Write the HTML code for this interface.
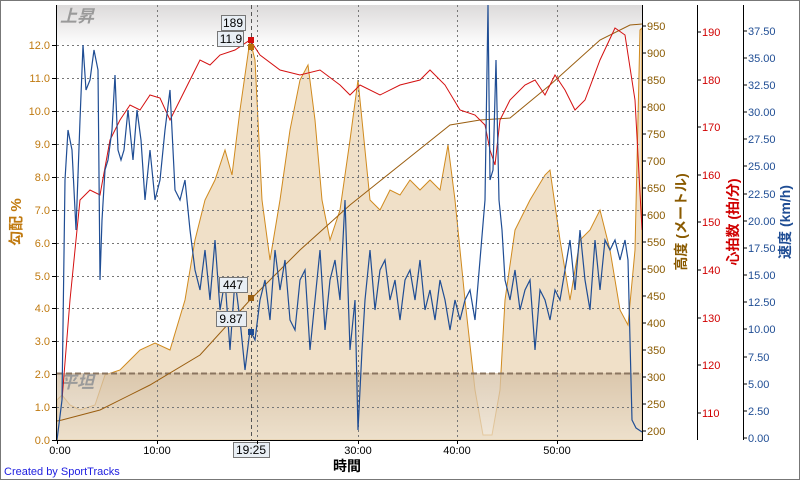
<!DOCTYPE html>
<html><head><meta charset="utf-8"><style>
body{margin:0;background:#fff}
svg{display:block;font-family:"Liberation Sans","Noto Sans CJK JP",sans-serif}
</style></head><body>
<svg width="800" height="480" viewBox="0 0 800 480">
<defs>
<linearGradient id="top" x1="0" y1="0" x2="0" y2="1"><stop offset="0" stop-color="#dcdada"/><stop offset="1" stop-color="#ffffff"/></linearGradient>
<linearGradient id="flat" x1="0" y1="0" x2="0" y2="1"><stop offset="0" stop-color="#d4bfa3"/><stop offset="1" stop-color="#ece0cd"/></linearGradient>
<clipPath id="pc"><rect x="57" y="5" width="585" height="435"/></clipPath>
</defs>
<rect x="0.5" y="0.5" width="799" height="479" fill="#fff" stroke="#777"/>
<rect x="57" y="5" width="585" height="435" fill="#fff"/>
<rect x="57" y="5" width="585" height="42" fill="url(#top)"/>
<g clip-path="url(#pc)">
<polygon fill="#f0e0c8" stroke="#d08a1e" stroke-width="1" points="57,440 57,400 62,395 70,405 80,410 95,405 105,375 120,370 140,350 155,343 170,350 185,300 195,240 205,200 215,180 225,150 232,175 240,110 250,40 255,60 262,200 270,260 280,200 290,130 300,80 308,65 315,120 322,200 330,240 340,210 350,140 358,80 362,120 370,200 380,210 390,190 400,195 410,180 420,190 430,180 440,190 448,145 455,200 465,300 475,390 483,435 492,435 500,390 505,300 515,230 530,200 545,175 550,170 560,240 570,300 580,240 590,230 600,210 610,250 620,310 628,325 635,250 640,30 642,28 642,440"/>
<rect x="57" y="373" width="585" height="67" fill="url(#flat)" opacity="0.75"/>
<g stroke="#777" stroke-width="1" stroke-dasharray="2,3" fill="none">
<path d="M57,45.5H642M57,78.5H642M57,111.5H642M57,144.5H642M57,177.5H642M57,210.5H642M57,243.5H642M57,276.5H642M57,308.5H642M57,341.5H642M57,407.5H642"/>
<path d="M157.5,5V440M257.5,5V440M358.5,5V440M457.5,5V440M557.5,5V440"/>
</g>
<path d="M57,373.5H642" stroke="#8a7560" stroke-width="2" stroke-dasharray="6,3"/>
<text x="60" y="22" font-size="17" font-style="italic" font-weight="bold" fill="#9a9a9a">上昇</text>
<text x="60" y="388" font-size="17" font-style="italic" font-weight="bold" fill="#9a9a9a">平坦</text>
<polyline fill="none" stroke="#9a5e10" stroke-width="1" points="57,421 62,420 100,410 150,385 200,355 250,300 300,250 350,205 400,165 450,125 480,120 510,118 550,85 600,40 630,25 642,24"/>
<polyline fill="none" stroke="#d41010" stroke-width="1" points="62,400 70,300 80,200 90,190 100,195 110,140 120,120 130,105 140,110 150,95 160,98 170,120 180,100 190,80 200,60 210,65 220,55 235,50 250,40 260,55 280,70 300,75 320,70 340,85 350,95 360,85 380,95 400,85 420,80 430,70 445,85 460,110 475,115 485,125 490,150 495,165 500,120 510,100 525,85 535,80 545,95 555,75 565,90 575,110 585,100 600,60 615,28 625,35 635,100 642,230"/>
<polyline fill="none" stroke="#1f4d94" stroke-width="1.2" points="57,440 62,400 65,180 68,130 72,150 76,230 80,120 83,45 86,90 90,80 94,50 98,70 100,280 102,220 105,170 108,160 112,130 115,75 118,150 121,160 124,150 128,110 133,160 137,110 141,140 145,200 150,150 155,200 160,180 165,130 170,90 175,190 180,200 185,180 190,230 195,270 200,290 205,250 210,300 215,240 220,310 225,280 230,350 235,280 240,320 245,370 250,330 255,340 260,300 265,280 270,320 275,250 280,290 285,260 290,320 295,330 300,280 305,270 310,350 315,300 320,250 325,330 330,280 335,260 340,300 345,200 350,350 355,300 358,430 362,350 365,300 370,250 375,310 380,270 385,260 390,300 395,280 400,320 405,280 410,270 415,300 420,260 425,310 430,290 435,320 440,280 445,300 450,330 455,300 460,320 465,300 470,290 475,320 480,260 485,200 488,5 490,180 493,170 496,60 499,200 502,230 505,280 510,300 515,270 520,310 525,290 530,280 535,350 540,290 545,300 550,320 555,290 560,300 565,270 570,240 575,290 580,230 585,280 590,310 595,240 600,290 605,240 610,250 615,240 620,260 625,240 628,260 632,420 636,428 642,432"/>
<path d="M251.5,5V440" stroke="#555" stroke-dasharray="4,3"/>
</g>
<rect x="248" y="37" width="6" height="6" fill="#d41010"/>
<rect x="248" y="44" width="6" height="6" fill="#b8700a"/>
<rect x="248" y="295" width="6" height="6" fill="#9a5e10"/>
<rect x="248" y="329" width="6" height="6" fill="#1f4d94"/>
<g font-size="12" text-anchor="middle">
<rect x="221.5" y="15.5" width="24" height="15" fill="#e8eef4" stroke="#777"/><text x="233" y="27">189</text>
<rect x="217.5" y="31.5" width="26" height="15" fill="#e8eef4" stroke="#777"/><text x="231" y="43">11.9</text>
<rect x="219.5" y="277.5" width="28" height="15" fill="#e8eef4" stroke="#777"/><text x="233" y="289">447</text>
<rect x="216.5" y="311.5" width="30" height="15" fill="#e8eef4" stroke="#777"/><text x="231" y="323">9.87</text>
<rect x="233.5" y="442.5" width="36" height="15" fill="#e8eef4" stroke="#777"/><text x="251" y="454">19:25</text>
</g>
<g stroke="#000" fill="none"><path d="M56.5,5V440.5H643M642.5,5V440M697.5,5V440M743.5,5V440"/>
<path d="M52,45.5h4M52,78.5h4M52,111.5h4M52,144.5h4M52,177.5h4M52,210.5h4M52,243.5h4M52,276.5h4M52,308.5h4M52,341.5h4M52,374.5h4M52,407.5h4M52,440.5h4"/>
<path d="M57.5,440v4M157.5,440v4M257.5,440v4M358.5,440v4M457.5,440v4M557.5,440v4"/></g>
<g font-size="11" fill="#c07a10" text-anchor="end">
<text x="50" y="49">12.0</text><text x="50" y="82">11.0</text><text x="50" y="115">10.0</text><text x="50" y="148">9.0</text><text x="50" y="181">8.0</text><text x="50" y="214">7.0</text><text x="50" y="247">6.0</text><text x="50" y="280">5.0</text><text x="50" y="312">4.0</text><text x="50" y="345">3.0</text><text x="50" y="378">2.0</text><text x="50" y="411">1.0</text><text x="50" y="444">0.0</text>
</g>
<text transform="translate(21,222) rotate(-90)" font-size="15" font-weight="bold" fill="#c07a10" text-anchor="middle">勾配 %</text>
<g font-size="11" fill="#000" text-anchor="middle">
<text x="60" y="454">0:00</text><text x="157" y="454">10:00</text><text x="358" y="454">30:00</text><text x="457" y="454">40:00</text><text x="557" y="454">50:00</text>
</g>
<text x="347" y="471" font-size="14" font-weight="bold" text-anchor="middle">時間</text>
<text x="4" y="475" font-size="11" fill="#2020e0">Created by SportTracks</text>
<g font-size="11" fill="#8a5a00">
<g stroke="#000"><path d="M642,26h4M642,53h4M642,80h4M642,107h4M642,134h4M642,161h4M642,188h4M642,215h4M642,242h4M642,269h4M642,296h4M642,323h4M642,350h4M642,377h4M642,404h4M642,431h4"/></g>
<text x="647" y="30">950</text><text x="647" y="57">900</text><text x="647" y="84">850</text><text x="647" y="111">800</text><text x="647" y="138">750</text><text x="647" y="165">700</text><text x="647" y="192">650</text><text x="647" y="219">600</text><text x="647" y="246">550</text><text x="647" y="273">500</text><text x="647" y="300">450</text><text x="647" y="327">400</text><text x="647" y="354">350</text><text x="647" y="381">300</text><text x="647" y="408">250</text><text x="647" y="435">200</text>
</g>
<text transform="translate(686,222) rotate(-90)" font-size="14" font-weight="bold" fill="#8a5a00" text-anchor="middle">高度 (メートル)</text>
<g font-size="11" fill="#d00000">
<g stroke="#000"><path d="M697,32h4M697,80h4M697,127h4M697,175h4M697,222h4M697,270h4M697,318h4M697,365h4M697,413h4"/></g>
<text x="702" y="36">190</text><text x="702" y="84">180</text><text x="702" y="131">170</text><text x="702" y="179">160</text><text x="702" y="226">150</text><text x="702" y="274">140</text><text x="702" y="322">130</text><text x="702" y="369">120</text><text x="702" y="417">110</text>
</g>
<text transform="translate(738,222) rotate(-90)" font-size="14" font-weight="bold" fill="#d00000" text-anchor="middle">心拍数 (拍/分)</text>
<g font-size="11" fill="#1f4d94">
<g stroke="#000"><path d="M743,31h4M743,58h4M743,85h4M743,112h4M743,139h4M743,166h4M743,194h4M743,221h4M743,248h4M743,275h4M743,302h4M743,329h4M743,357h4M743,384h4M743,411h4M743,438h4"/></g>
<text x="748" y="35">37.50</text><text x="748" y="62">35.00</text><text x="748" y="89">32.50</text><text x="748" y="116">30.00</text><text x="748" y="143">27.50</text><text x="748" y="170">25.00</text><text x="748" y="198">22.50</text><text x="748" y="225">20.00</text><text x="748" y="252">17.50</text><text x="748" y="279">15.00</text><text x="748" y="306">12.50</text><text x="748" y="333">10.00</text><text x="748" y="361">7.50</text><text x="748" y="388">5.00</text><text x="748" y="415">2.50</text><text x="748" y="442">0.00</text>
</g>
<text transform="translate(790,222) rotate(-90)" font-size="14" font-weight="bold" fill="#1f4d94" text-anchor="middle">速度 (km/h)</text>
</svg>
</body></html>
